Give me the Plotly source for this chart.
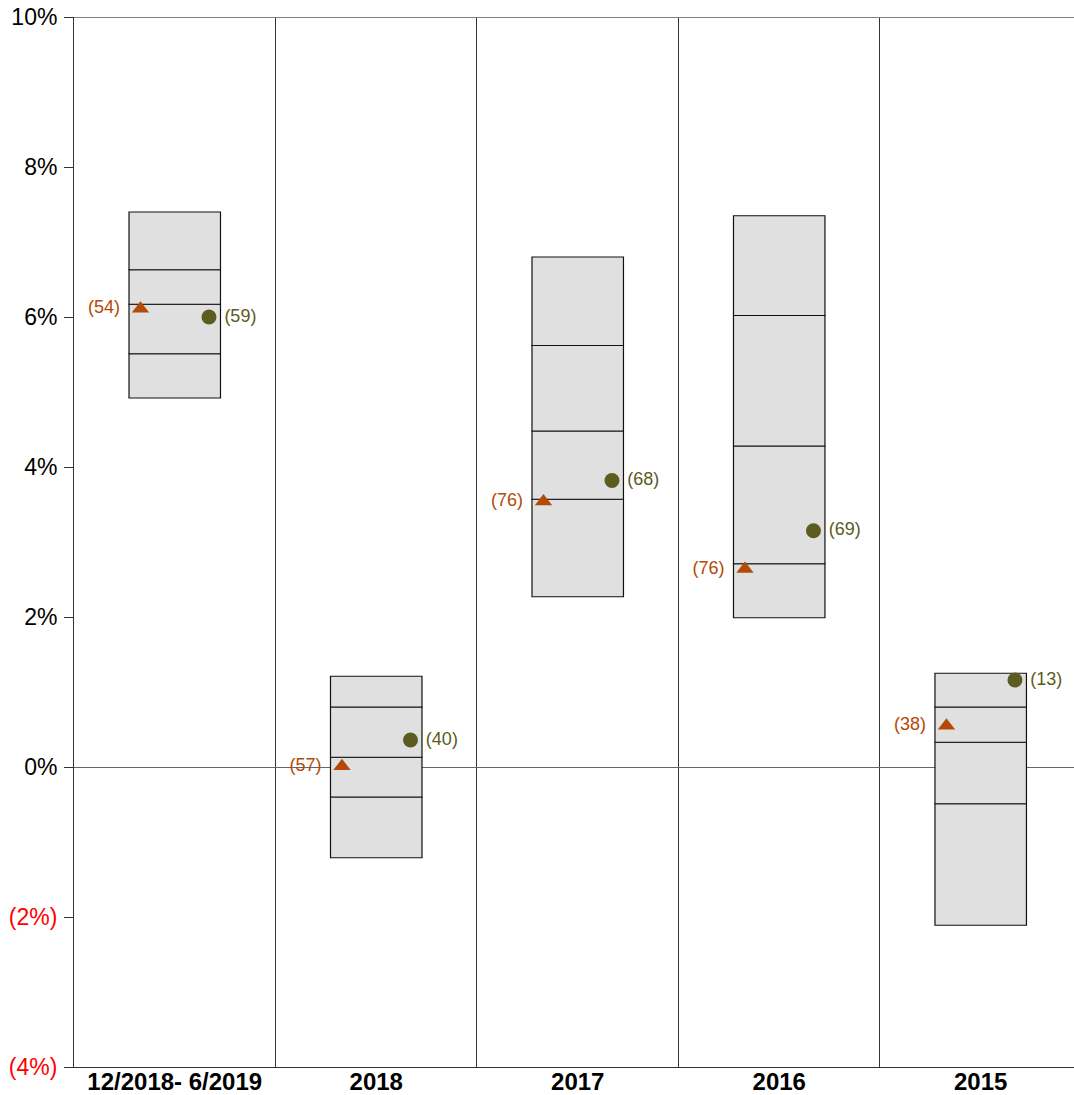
import plotly.graph_objects as go

categories = ["12/2018- 6/2019", "2018", "2017", "2016", "2015"]
box_top = [7.40, 1.21, 6.80, 7.35, 1.25]
box_q3 = [6.63, 0.80, 5.62, 6.02, 0.80]
box_median = [6.17, 0.13, 4.48, 4.28, 0.33]
box_q1 = [5.51, -0.40, 3.57, 2.71, -0.49]
box_bottom = [4.92, -1.21, 2.27, 1.99, -2.11]
tri_values = [6.11, 0.01, 3.54, 2.64, 0.55]
tri_labels = ["(54)", "(57)", "(76)", "(76)", "(38)"]
dot_values = [6.00, 0.36, 3.82, 3.15, 1.16]
dot_labels = ["(59)", "(40)", "(68)", "(69)", "(13)"]
y_ticks = [-4, -2, 0, 2, 4, 6, 8, 10]

FONT = "Liberation Sans, Arial, sans-serif"
TRI_COLOR = "#b34a06"
DOT_COLOR = "#5c5c20"
NBSP = "\u00a0"

centers = [i + 0.5 for i in range(len(categories))]
box_width = 0.454
offset = 0.17

fig = go.Figure()

levels = [box_bottom, box_q1, box_median, box_q3, box_top]
for k in range(4):
    lo = levels[k]
    hi = levels[k + 1]
    fig.add_trace(go.Bar(
        x=centers,
        base=lo,
        y=[h - l for h, l in zip(hi, lo)],
        width=box_width,
        marker=dict(color="#e0e0e0", line=dict(color="#111111", width=1.2)),
        showlegend=False,
        hoverinfo="skip",
    ))

fig.add_trace(go.Scatter(
    x=[c - offset for c in centers],
    y=tri_values,
    mode="markers+text",
    marker=dict(symbol="triangle-up", size=15, color=TRI_COLOR),
    text=[t + NBSP * 2 for t in tri_labels],
    textposition="middle left",
    textfont=dict(family=FONT, size=18, color=TRI_COLOR),
    showlegend=False,
    cliponaxis=False,
))

fig.add_trace(go.Scatter(
    x=[c + offset for c in centers],
    y=dot_values,
    mode="markers+text",
    marker=dict(symbol="circle", size=15, color=DOT_COLOR),
    text=[NBSP + t for t in dot_labels],
    textposition="middle right",
    textfont=dict(family=FONT, size=18, color=DOT_COLOR),
    showlegend=False,
    cliponaxis=False,
))

def fmt(v):
    if v < 0:
        return '<span style="color:#ff0000">(%d%%)</span>' % abs(v)
    return "%d%%" % v

fig.update_layout(
    width=1074,
    height=1095,
    margin=dict(l=74, r=0, t=17, b=28),
    paper_bgcolor="white",
    plot_bgcolor="white",
    barmode="overlay",
    font=dict(family=FONT, color="black"),
    xaxis=dict(
        range=[0, 4.963],
        tickvals=centers,
        ticktext=categories,
        tickfont=dict(family=FONT, size=24, color="black", weight="bold"),
        ticks="",
        ticklabelstandoff=-7,
        automargin=False,
        showgrid=False,
        zeroline=False,
        showline=True,
        linecolor="#333333",
        linewidth=1,
        minor=dict(tickvals=[1, 2, 3, 4], showgrid=True, gridcolor="#333333", gridwidth=1, ticks=""),
        fixedrange=True,
    ),
    yaxis=dict(
        range=[-4, 10],
        tickvals=y_ticks,
        ticktext=[fmt(v) for v in y_ticks],
        tickfont=dict(family=FONT, size=23, color="black"),
        ticks="outside",
        ticklen=9,
        tickcolor="#333333",
        ticklabelstandoff=2,
        automargin=False,
        showgrid=False,
        zeroline=True,
        zerolinecolor="#666666",
        zerolinewidth=1,
        showline=True,
        linecolor="#333333",
        linewidth=1,
        fixedrange=True,
    ),
    shapes=[dict(type="line", xref="paper", yref="y", x0=0, x1=1, y0=10, y1=10,
                 line=dict(color="#808080", width=2), layer="above")],
)

fig.write_html(
    "out.html",
    config={"displayModeBar": False},
    post_script="document.body.style.margin='0';document.body.style.overflow='hidden';",
)
